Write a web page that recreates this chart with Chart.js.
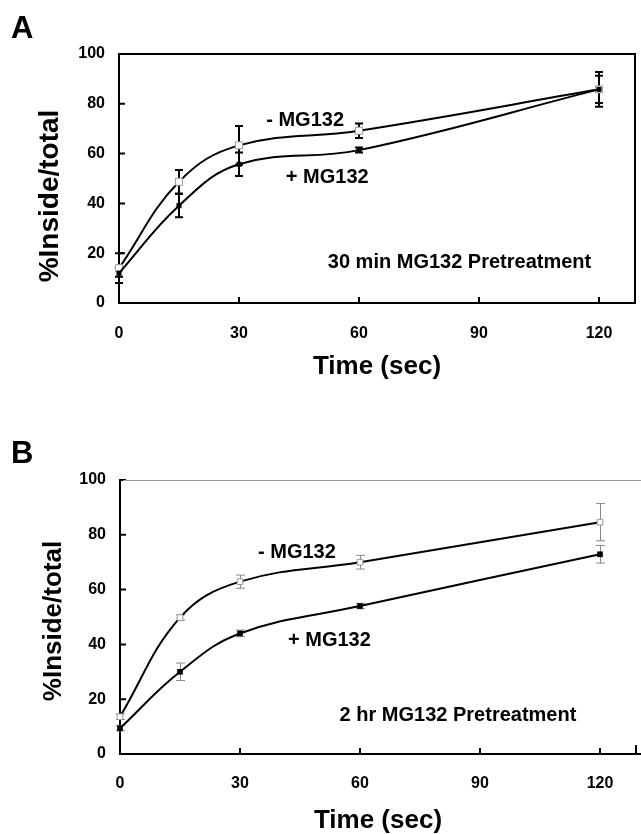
<!DOCTYPE html>
<html><head><meta charset="utf-8">
<script src="https://cdn.jsdelivr.net/npm/chart.js@4.4.1/dist/chart.umd.min.js"></script>
<style>
html,body{margin:0;padding:0;background:#fff;overflow:hidden;}
.p{position:absolute;left:0;width:641px;height:417px;}
#wa{top:0;} #wb{top:417px;}
</style>
</head><body>
<div class="p" id="wa"><canvas id="ca" width="641" height="417"></canvas></div>
<div class="p" id="wb"><canvas id="cb" width="641" height="417"></canvas></div>
<script>
// ---- data ----
const times = [0, 15, 30, 60, 120];
const xTicks = [0, 30, 60, 90, 120];
const yTicks = [0, 20, 40, 60, 80, 100];
const seriesNames = ['+ MG132', '- MG132'];
const aPlus = [12, 39.1, 55.7, 61.4, 85.8];
const aPlusErr = [1.5, 4.7, 4.7, 1, 5.5];
const aMinus = [14, 48.7, 63.3, 69.2, 85.8];
const aMinusErr = [6, 4.7, 7.8, 2.9, 7];
const bPlus = [9.4, 30.0, 44.0, 54.0, 72.9];
const bPlusErr = [1, 3.2, 1.2, 1, 3.2];
const bMinus = [13.6, 49.8, 62.9, 70.0, 84.6];
const bMinusErr = [1, 1, 2.4, 2.5, 6.8];
const panelLetters = ['A', 'B'];
const panelNotes = ['30 min MG132 Pretreatment', '2 hr MG132 Pretreatment'];
const xTitle = 'Time (sec)';
const yTitle = '%Inside/total';

const FONT = "'Liberation Sans', Arial, Helvetica, sans-serif";
Chart.defaults.font.family = FONT;
Chart.defaults.color = '#000';

const errorBars = {
  id: 'errorBars',
  beforeDatasetsDraw(chart, args, o) {
    const ctx = chart.ctx, xs = chart.scales.x, ys = chart.scales.y;
    ctx.save();
    ctx.strokeStyle = o.color; ctx.lineWidth = o.width;
    chart.data.datasets.forEach((ds, di) => {
      const errs = o.errors[di];
      ds.data.forEach((pt, i) => {
        const v = pt.y;
        const px = Math.round(xs.getPixelForValue(pt.x)) + (o.width % 2 ? 0.5 : 0);
        const t = ys.getPixelForValue(v + errs[i]);
        const b = ys.getPixelForValue(v - errs[i]);
        ctx.beginPath();
        ctx.moveTo(px, t); ctx.lineTo(px, b);
        ctx.moveTo(px - o.cap, t); ctx.lineTo(px + o.cap, t);
        ctx.moveTo(px - o.cap, b); ctx.lineTo(px + o.cap, b);
        ctx.stroke();
      });
    });
    ctx.restore();
  }
};

const frameTicks = {
  id: 'frameTicks',
  afterDraw(chart, args, o) {
    const ctx = chart.ctx, a = chart.chartArea, xs = chart.scales.x, ys = chart.scales.y;
    ctx.save();
    ctx.strokeStyle = '#000'; ctx.lineWidth = 2;
    ctx.beginPath();
    xs.ticks.forEach(t => { const p = xs.getPixelForValue(t.value); ctx.moveTo(p, a.bottom); ctx.lineTo(p, a.bottom - 6); });
    ys.ticks.forEach(t => { const p = ys.getPixelForValue(t.value); ctx.moveTo(a.left, p); ctx.lineTo(a.left + 6, p); });
    ctx.stroke();
    if (o.box) {
      ctx.beginPath();
      ctx.moveTo(a.left, a.top); ctx.lineTo(a.right, a.top); ctx.lineTo(a.right, a.bottom);
      ctx.stroke();
    } else {
      ctx.strokeStyle = '#999'; ctx.lineWidth = 1;
      ctx.beginPath(); ctx.moveTo(a.left + 3, a.top + 0.5); ctx.lineTo(chart.width, a.top + 0.5); ctx.stroke();
      ctx.strokeStyle = '#000'; ctx.lineWidth = 2;
      ctx.beginPath(); ctx.moveTo(a.right, a.bottom); ctx.lineTo(chart.width, a.bottom); ctx.stroke();
      ctx.beginPath(); ctx.moveTo(a.right, a.bottom); ctx.lineTo(a.right, a.bottom - 9); ctx.stroke();
    }
    // texts
    ctx.fillStyle = '#000';
    ctx.textBaseline = 'middle'; ctx.textAlign = 'left';
    ctx.font = 'bold 31px ' + FONT;
    ctx.fillText(o.letter, 11, o.letterY);
    o.labels.forEach(l => {
      ctx.font = 'bold ' + l.size + 'px ' + FONT;
      ctx.fillText(l.text, xs.getPixelForValue(l.x), ys.getPixelForValue(l.y));
    });
    ctx.save();
    ctx.translate(o.yTitleX, o.yTitleY);
    ctx.rotate(-Math.PI / 2);
    ctx.textAlign = 'center';
    ctx.font = 'bold ' + o.yTitleSize + 'px ' + FONT;
    ctx.fillText(yTitle, 0, 0);
    ctx.restore();
    ctx.restore();
  }
};

function makePanel(id, cfg) {
  const H = 417;
  const mkDs = (label, data, filled) => ({
    label, data: data.map((v, i) => ({x: times[i], y: v})),
    borderColor: '#000', borderWidth: 2, tension: 0.4, clip: false,
    pointStyle: 'rect',
    pointRadius: filled ? cfg.rFill : cfg.rOpen,
    pointBackgroundColor: filled ? '#000' : '#fff',
    pointBorderColor: filled ? '#000' : '#999',
    pointBorderWidth: filled ? 0 : 1
  });
  return new Chart(document.getElementById(id), {
    type: 'line',
    data: { datasets: [mkDs(seriesNames[0], cfg.plus, true), mkDs(seriesNames[1], cfg.minus, false)] },
    options: {
      responsive: false, animation: false, devicePixelRatio: 1,
      layout: { padding: { top: cfg.top, right: 641 - cfg.right, left: 0, bottom: 0 } },
      plugins: {
        legend: { display: false }, tooltip: { enabled: false },
        errorBars: { errors: [cfg.plusErr, cfg.minusErr], color: cfg.errColor, width: cfg.errWidth, cap: cfg.cap },
        frameTicks: cfg.text
      },
      scales: {
        x: {
          type: 'linear', min: 0, max: 129,
          afterFit: s => { s.height = H - cfg.bottom; },
          afterBuildTicks: s => { s.ticks = xTicks.map(v => ({ value: v })); },
          ticks: { font: { size: 16, weight: 'bold' }, color: '#000', padding: cfg.xPad, includeBounds: false },
          grid: { display: false, drawTicks: false },
          border: { color: '#000', width: 2 },
          title: { display: true, text: xTitle, color: '#000', font: { size: 26, weight: 'bold', lineHeight: 1 }, padding: { top: 0, bottom: cfg.xTitlePad } }
        },
        y: {
          min: 0, max: 100,
          afterFit: s => { s.width = cfg.left; },
          afterBuildTicks: s => { s.ticks = yTicks.map(v => ({ value: v })); },
          ticks: { font: { size: 16, weight: 'bold' }, color: '#000', padding: 14 },
          grid: { display: false, drawTicks: false },
          border: { color: '#000', width: 2 }
        }
      }
    },
    plugins: [errorBars, frameTicks]
  });
}

makePanel('ca', {
  plus: aPlus, plusErr: aPlusErr, minus: aMinus, minusErr: aMinusErr,
  top: 54, bottom: 303, left: 119, right: 638, xPad: 21, xTitlePad: 37,
  rOpen: 5, rFill: 3.6, errColor: '#000', errWidth: 2, cap: 4,
  text: {
    box: true, letter: panelLetters[0], letterY: 29,
    yTitleX: 50, yTitleY: 196, yTitleSize: 28,
    labels: [
      { text: seriesNames[1], x: 36.8, y: 73.5, size: 20 },
      { text: seriesNames[0], x: 41.7, y: 50.6, size: 20 },
      { text: panelNotes[0], x: 52.2, y: 16.1, size: 20 }
    ]
  }
});

makePanel('cb', {
  plus: bPlus, plusErr: bPlusErr, minus: bMinus, minusErr: bMinusErr,
  top: 63, bottom: 337, left: 120, right: 639, xPad: 20, xTitlePad: 0,
  rOpen: 4, rFill: 4, errColor: '#888', errWidth: 1, cap: 4.5,
  text: {
    box: false, letter: panelLetters[1], letterY: 37,
    yTitleX: 54, yTitleY: 204, yTitleSize: 26,
    labels: [
      { text: seriesNames[1], x: 34.5, y: 73.7, size: 20 },
      { text: seriesNames[0], x: 42, y: 41.6, size: 20 },
      { text: panelNotes[1], x: 54.9, y: 14.2, size: 20 }
    ]
  }
});
</script>
</body></html>
